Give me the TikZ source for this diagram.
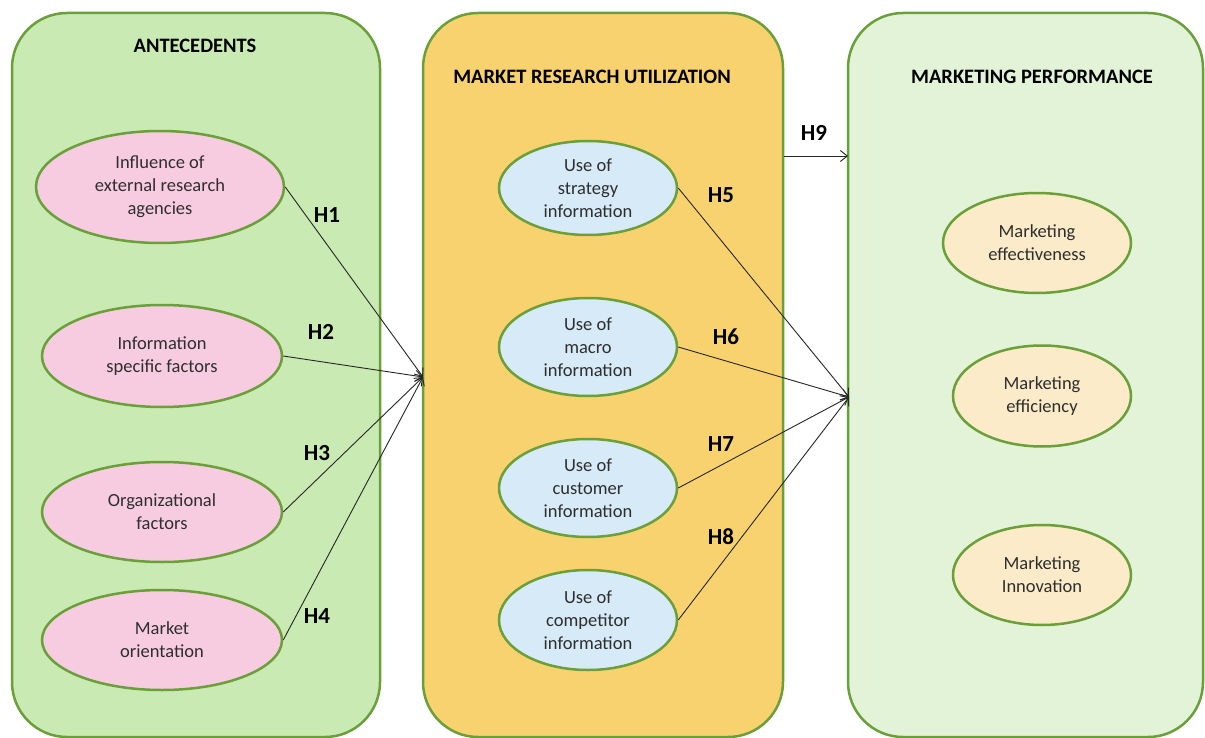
\documentclass[tikz,border=0pt]{standalone}
\usepackage{fontspec}
\setmainfont{Carlito}
\usetikzlibrary{shapes.geometric,arrows.meta}
\definecolor{bordergreen}{HTML}{6A9F3A}
\definecolor{antefill}{HTML}{C9EAB2}
\definecolor{mrufill}{HTML}{F9D270}
\definecolor{perffill}{HTML}{E2F3D7}
\definecolor{pinkfill}{HTML}{F7CCE1}
\definecolor{bluefill}{HTML}{D6EAF8}
\definecolor{creamfill}{HTML}{FCEBC9}
\definecolor{txtgray}{HTML}{2E2E2E}
\tikzset{
  panel/.style={draw=bordergreen, line width=2.5pt, rounded corners=55pt},
  oval/.style={ellipse, draw=bordergreen, line width=2.5pt, inner sep=0pt, align=center,
    text=txtgray, font=\fontsize{18.5}{23}\selectfont},
  paneltitle/.style={font=\fontsize{20.5}{24}\selectfont\bfseries, text=black},
  hyp/.style={font=\fontsize{23}{27}\selectfont\bfseries, text=black},
  link/.style={draw=black!85, line width=0.9pt, -{Straight Barb[length=7pt,width=11pt]}}
}
\begin{document}
\begin{tikzpicture}[x=1pt,y=-1pt]
\useasboundingbox (0,0) rectangle (1205,738);
\fill[white] (0,0) rectangle (1205,738);
% panels
\draw[panel, fill=antefill] (12,13) rectangle (380,737);
\draw[panel, fill=mrufill] (423,13) rectangle (783,737);
\draw[panel, fill=perffill] (848,13) rectangle (1203,737);
% titles
\node[paneltitle] (t1) at (195,46) {ANTECEDENTS};
\node[paneltitle] (t2) at (592,77) {MARKET RESEARCH UTILIZATION};
\node[paneltitle] (t3) at (1032,77) {MARKETING PERFORMANCE};
% left ellipses
\node[oval, fill=pinkfill, minimum width=248pt, minimum height=112pt] (a1) at (160,187) {Influence of\\external research\\agencies};
\node[oval, fill=pinkfill, minimum width=240pt, minimum height=102pt] (a2) at (162,356) {Information\\specific factors};
\node[oval, fill=pinkfill, minimum width=240pt, minimum height=100pt] (a3) at (162,512) {Organizational\\factors};
\node[oval, fill=pinkfill, minimum width=240pt, minimum height=100pt] (a4) at (162,640) {Market\\orientation};
% middle ellipses
\node[oval, fill=bluefill, minimum width=178pt, minimum height=94pt] (m1) at (588,188) {Use of\\strategy\\information};
\node[oval, fill=bluefill, minimum width=178pt, minimum height=98pt] (m2) at (588,347) {Use of\\macro\\information};
\node[oval, fill=bluefill, minimum width=178pt, minimum height=98pt] (m3) at (588,488) {Use of\\customer\\information};
\node[oval, fill=bluefill, minimum width=178pt, minimum height=100pt] (m4) at (588,620) {Use of\\competitor\\information};
% right ellipses
\node[oval, fill=creamfill, minimum width=188pt, minimum height=100pt] (p1) at (1037,243) {Marketing\\effectiveness};
\node[oval, fill=creamfill, minimum width=178pt, minimum height=101pt] (p2) at (1042,396) {Marketing\\efficiency};
\node[oval, fill=creamfill, minimum width=178pt, minimum height=100pt] (p3) at (1042,575) {Marketing\\Innovation};
% convergence points
\coordinate (inA) at (423,377);
\coordinate (inB) at (849,397);
\coordinate (h9s) at (784,156);
\coordinate (h9e) at (848,156);
% connectors
\draw[link] (a1.east) -- (inA);
\draw[link] (a2.east) -- (inA);
\draw[link] (a3.east) -- (inA);
\draw[link] (a4.east) -- (inA);
\draw[link] (m1.east) -- (inB);
\draw[link] (m2.east) -- (inB);
\draw[link] (m3.east) -- (inB);
\draw[link] (m4.east) -- (inB);
\draw[link] (h9s) -- (h9e);
% hypothesis labels
\node[hyp] (H1) at (327,215) {H1};
\node[hyp] (H2) at (321,332) {H2};
\node[hyp] (H3) at (317,453) {H3};
\node[hyp] (H4) at (317,616) {H4};
\node[hyp] (H5) at (721,195) {H5};
\node[hyp] (H6) at (726,337) {H6};
\node[hyp] (H7) at (721,444) {H7};
\node[hyp] (H8) at (721,537) {H8};
\node[hyp] (H9) at (814,133) {H9};
\end{tikzpicture}
\end{document}
